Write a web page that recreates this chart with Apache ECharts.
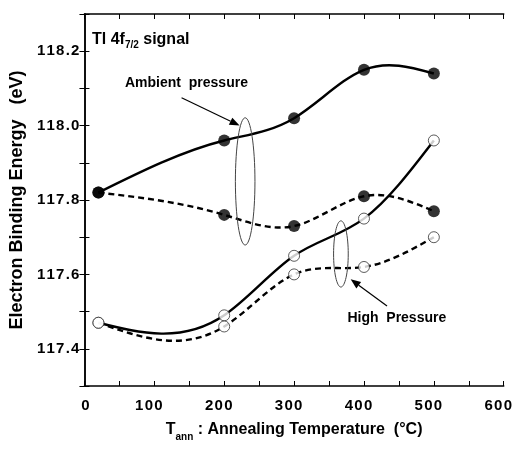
<!DOCTYPE html>
<html>
<head>
<meta charset="utf-8">
<script src="https://cdn.jsdelivr.net/npm/echarts@6/dist/echarts.min.js"></script>
<style>
  html, body { margin: 0; padding: 0; background: #fff; }
  #chart { width: 515px; height: 450px; }
</style>
</head>
<body>
<div id="chart"></div>
<script>
// Annealing temperatures (°C)
const tempC = [20, 200, 300, 400, 500];
// Tl 4f7/2 binding energies (eV)
const ambientSolid  = [117.82, 117.96, 118.02, 118.15, 118.14];
const ambientDashed = [117.82, 117.76, 117.73, 117.81, 117.77];
const highSolid     = [117.47, 117.49, 117.65, 117.75, 117.96];
const highDashed    = [117.47, 117.46, 117.60, 117.62, 117.70];
// Labelled tick values
const xTickLabels = [0, 100, 200, 300, 400, 500, 600];
const yTickLabels = [117.4, 117.6, 117.8, 118.0, 118.2];

const FONT = '"Liberation Sans", Arial, sans-serif';
const pair = (xs, ys) => xs.map((x, i) => [x, ys[i]]);
const spaced = (s, gap) => s.split('').join(gap);

// Slopes of a natural cubic spline through (xs, ys)
function splineSlopes(xs, ys) {
  const n = xs.length;
  const h = [], M = new Array(n).fill(0);
  for (let i = 0; i < n - 1; i++) h.push(xs[i + 1] - xs[i]);
  // tridiagonal solve for the interior second derivatives
  const a = [], b = [], c = [], d = [];
  for (let i = 1; i < n - 1; i++) {
    a.push(h[i - 1]);
    b.push(2 * (h[i - 1] + h[i]));
    c.push(h[i]);
    d.push(6 * ((ys[i + 1] - ys[i]) / h[i] - (ys[i] - ys[i - 1]) / h[i - 1]));
  }
  const m = b.length;
  for (let i = 1; i < m; i++) {
    const w = a[i] / b[i - 1];
    b[i] -= w * c[i - 1];
    d[i] -= w * d[i - 1];
  }
  const sol = new Array(m);
  for (let i = m - 1; i >= 0; i--) sol[i] = (d[i] - (i < m - 1 ? c[i] * sol[i + 1] : 0)) / b[i];
  for (let i = 0; i < m; i++) M[i + 1] = sol[i];
  const slopes = [];
  for (let i = 0; i < n; i++) {
    if (i < n - 1) {
      slopes.push((ys[i + 1] - ys[i]) / h[i] - h[i] * (2 * M[i] + M[i + 1]) / 6);
    } else {
      slopes.push((ys[i] - ys[i - 1]) / h[i - 1] + h[i - 1] * (M[i - 1] + 2 * M[i]) / 6);
    }
  }
  return slopes;
}

// Spline curve through the data, drawn as cubic Béziers in grid pixels
function curveSeries(name, ys, dashed) {
  const s = splineSlopes(tempC, ys);
  return {
    name, type: 'custom', z: 2, silent: true,
    data: pair(tempC, ys),
    renderItem(params, api) {
      if (params.dataIndex !== 0) return null;
      let p = api.coord([tempC[0], ys[0]]);
      let path = 'M' + p[0] + ' ' + p[1];
      for (let i = 0; i < tempC.length - 1; i++) {
        const hx = (tempC[i + 1] - tempC[i]) / 3;
        const c1 = api.coord([tempC[i] + hx, ys[i] + s[i] * hx]);
        const c2 = api.coord([tempC[i + 1] - hx, ys[i + 1] - s[i + 1] * hx]);
        const e = api.coord([tempC[i + 1], ys[i + 1]]);
        path += ' C' + c1.join(' ') + ' ' + c2.join(' ') + ' ' + e.join(' ');
      }
      return {
        type: 'path',
        shape: { pathData: path },
        style: { fill: 'none', stroke: '#000', lineWidth: 2.4, lineDash: dashed ? [6, 4] : null }
      };
    }
  };
}

function markerSeries(name, ys, filled) {
  return {
    name, type: 'scatter', z: 4,
    data: pair(tempC, ys),
    symbol: 'circle',
    symbolSize: filled ? 12 : 11,
    itemStyle: filled
      ? { color: '#000', borderWidth: 0 }
      : { color: '#fff', borderColor: '#333', borderWidth: 1 }
  };
}

const chart = echarts.init(document.getElementById('chart'), null, { renderer: 'canvas' });

const baseAxisLine = { show: true, lineStyle: { color: '#000', width: 1.5 } };
const tickIn = { show: true, inside: true, length: 5, lineStyle: { color: '#000', width: 1 } };
const tickFont = { fontFamily: FONT, fontWeight: 'bold', fontSize: 15, color: '#000' };

chart.setOption({
  animation: false,
  backgroundColor: '#fff',
  title: {
    left: 92, top: 30, padding: 0,
    text: '{m|Tl 4f}{s|7/2}{m| signal}',
    textStyle: {
      rich: {
        m: { fontFamily: FONT, fontWeight: 'bold', fontSize: 16, color: '#000' },
        s: { fontFamily: FONT, fontWeight: 'bold', fontSize: 10, color: '#000', padding: [10, 0, 0, 0] }
      }
    }
  },
  grid: { left: 79, right: 9, top: 14, bottom: 64, containLabel: false },
  xAxis: [
    {
      type: 'value', min: 0, max: 600, interval: 50,
      axisLine: baseAxisLine, axisTick: tickIn, splitLine: { show: false },
      axisLabel: {
        margin: 12, ...tickFont,
        // multi-digit labels sit a little left of their ticks
        formatter: v => {
          if (!xTickLabels.includes(v)) return '';
          const s = spaced(String(v), '\u200a');
          return v === 0 ? '{o|' + s + '}' : '{w|' + s + '}';
        },
        rich: {
          o: { ...tickFont, padding: [0, 0, 0, 2] },
          w: { ...tickFont, padding: [0, 11, 0, 0] }
        }
      },
      name: '{t|T}{s|ann}{n| : Annealing Temperature  (°C)}',
      nameLocation: 'middle', nameGap: 32,
      nameTextStyle: {
        rich: {
          t: { fontFamily: FONT, fontWeight: 'bold', fontSize: 16, color: '#000' },
          s: { fontFamily: FONT, fontWeight: 'bold', fontSize: 10, color: '#000', padding: [14, 0, 0, 0] },
          n: { fontFamily: FONT, fontWeight: 'bold', fontSize: 16, color: '#000' }
        }
      }
    },
    {
      type: 'value', position: 'top', min: 0, max: 600, interval: 50,
      axisLine: baseAxisLine, axisTick: tickIn, axisLabel: { show: false }, splitLine: { show: false }
    }
  ],
  yAxis: [
    {
      type: 'value', min: 117.3, max: 118.3, interval: 0.1,
      axisLine: baseAxisLine, axisTick: tickIn, splitLine: { show: false },
      axisLabel: {
        margin: 5, ...tickFont,
        formatter: v => {
          const r = Math.round(v * 10) / 10;
          return yTickLabels.some(t => Math.abs(t - r) < 1e-6) ? spaced(r.toFixed(1), '\u200a') : '';
        }
      },
      name: 'Electron Binding Energy   (eV)',
      nameLocation: 'middle', nameGap: 48, nameRotate: 90,
      nameTextStyle: { fontFamily: FONT, fontWeight: 'bold', fontSize: 18, color: '#000' }
    },
    {
      type: 'value', position: 'right', min: 117.3, max: 118.3, interval: 0.1,
      axisLine: baseAxisLine, axisTick: tickIn, axisLabel: { show: false }, splitLine: { show: false }
    }
  ],
  series: [
    curveSeries('Ambient (solid)', ambientSolid, false),
    curveSeries('Ambient (dashed)', ambientDashed, true),
    curveSeries('High (solid)', highSolid, false),
    curveSeries('High (dashed)', highDashed, true),
    markerSeries('Ambient (solid) pts', ambientSolid, true),
    markerSeries('Ambient (dashed) pts', ambientDashed, true),
    markerSeries('High (solid) pts', highSolid, false),
    markerSeries('High (dashed) pts', highDashed, false)
  ]
});

// Annotation callouts, given in data units and mapped through the grid
const ambientEllipse = { cx: 230, cy: 117.85, rx: 14, ry: 0.171 };
const highEllipse    = { cx: 367, cy: 117.655, rx: 10.5, ry: 0.089 };
const ambientArrow   = { from: [139, 118.075], to: [222, 118.0] };
const highArrow      = { from: [433, 117.515], to: [381, 117.587] };
const ambientText    = { at: [146, 118.115], text: 'Ambient  pressure' };
const highText       = { at: [447, 117.482], text: 'High  Pressure' };

function px(p) { return chart.convertToPixel({ gridIndex: 0 }, p); }

function ellipseGraphic(e) {
  const c = px([e.cx, e.cy]);
  const ex = px([e.cx + e.rx, e.cy]);
  const ey = px([e.cx, e.cy + e.ry]);
  return {
    type: 'ellipse', silent: true, z: 10,
    shape: { cx: c[0], cy: c[1], rx: Math.abs(ex[0] - c[0]), ry: Math.abs(ey[1] - c[1]) },
    style: { fill: 'none', stroke: '#444', lineWidth: 1 }
  };
}

function arrowGraphics(a) {
  const p0 = px(a.from), p1 = px(a.to);
  const ang = Math.atan2(p1[1] - p0[1], p1[0] - p0[0]);
  const L = 10, W = 4;
  const bx = p1[0] - L * Math.cos(ang), by = p1[1] - L * Math.sin(ang);
  const nx = -Math.sin(ang) * W, ny = Math.cos(ang) * W;
  return [
    { type: 'line', silent: true, z: 10,
      shape: { x1: p0[0], y1: p0[1], x2: bx, y2: by },
      style: { stroke: '#000', lineWidth: 1.2 } },
    { type: 'polygon', silent: true, z: 10,
      shape: { points: [[p1[0], p1[1]], [bx + nx, by + ny], [bx - nx, by - ny]] },
      style: { fill: '#000' } }
  ];
}

function textGraphic(t) {
  const p = px(t.at);
  return {
    type: 'text', silent: true, z: 10, x: p[0], y: p[1],
    style: { text: t.text, fontFamily: FONT, fontWeight: 'bold', fontSize: 14,
             fill: '#000', align: 'center', verticalAlign: 'middle' }
  };
}

chart.setOption({
  graphic: [
    ellipseGraphic(ambientEllipse),
    ellipseGraphic(highEllipse),
    ...arrowGraphics(ambientArrow),
    ...arrowGraphics(highArrow),
    textGraphic(ambientText),
    textGraphic(highText)
  ]
});
</script>
</body>
</html>
